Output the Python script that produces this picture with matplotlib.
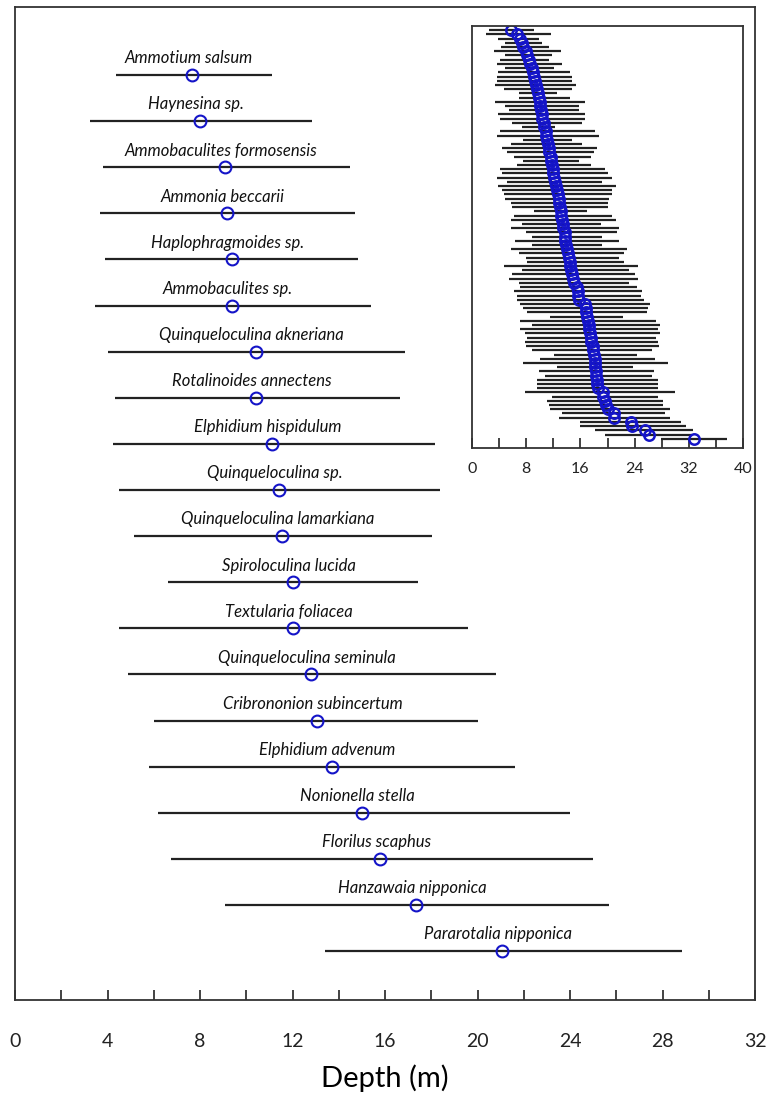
import numpy as np
import matplotlib.pyplot as plt
from matplotlib.ticker import MultipleLocator

plt.rcParams['font.family'] = ['Lato', 'DejaVu Sans']

# species depth ranges (main panel)
species = ['Ammotium salsum', 'Haynesina sp.', 'Ammobaculites formosensis',
           'Ammonia beccarii', 'Haplophragmoides sp.', 'Ammobaculites sp.',
           'Quinqueloculina akneriana', 'Rotalinoides annectens',
           'Elphidium hispidulum', 'Quinqueloculina sp.',
           'Quinqueloculina lamarkiana', 'Spiroloculina lucida',
           'Textularia foliacea', 'Quinqueloculina seminula',
           'Cribrononion subincertum', 'Elphidium advenum', 'Nonionella stella',
           'Florilus scaphus', 'Hanzawaia nipponica', 'Pararotalia nipponica']
sp_mid = [7.67, 8.0, 9.08, 9.15, 9.37, 9.37, 10.42, 10.42, 11.13, 11.42,
          11.55, 12.04, 12.04, 12.8, 13.05, 13.7, 15.0, 15.8, 17.35, 21.05]
sp_lo = [4.37, 3.24, 3.82, 3.68, 3.89, 3.46, 4.04, 4.32, 4.25, 4.51,
         5.16, 6.63, 4.51, 4.9, 6.0, 5.8, 6.2, 6.75, 9.1, 13.4]
sp_hi = [11.1, 12.85, 14.49, 14.7, 14.85, 15.38, 16.86, 16.65, 18.16, 18.38,
         18.02, 17.44, 19.58, 20.8, 20.0, 21.6, 24.0, 25.0, 25.7, 28.85]

# inset: all taxa, optimum and range
ins_mid = [5.7, 6.6, 7.1, 7.4, 7.6, 7.9, 8.1, 8.4, 8.6, 8.8,
           9.0, 9.1, 9.3, 9.5, 9.6, 9.8, 9.9, 10.0, 10.1, 10.2,
           10.3, 10.4, 10.6, 10.7, 10.9, 10.9, 11.1, 11.2, 11.3, 11.4,
           11.6, 11.7, 11.8, 11.9, 12.0, 12.1, 12.3, 12.4, 12.6, 12.7,
           12.8, 12.9, 13.0, 13.1, 13.2, 13.3, 13.4, 13.5, 13.7, 13.8,
           13.8, 13.9, 14.0, 14.2, 14.3, 14.4, 14.5, 14.6, 14.8, 14.9,
           15.0, 15.5, 15.6, 15.7, 15.8, 16.7, 16.8, 16.9, 17.0, 17.1,
           17.2, 17.3, 17.4, 17.5, 17.6, 17.8, 17.9, 18.0, 18.1, 18.1,
           18.2, 18.3, 18.3, 18.4, 18.5, 18.6, 19.3, 19.4, 19.6, 19.8,
           20.1, 20.9, 21.0, 23.4, 23.6, 25.6, 26.1, 32.7]
ins_lo = [2.5, 2.0, 3.9, 4.9, 4.3, 3.2, 4.9, 4.2, 3.7, 4.9,
          3.9, 3.7, 3.7, 3.4, 4.7, 6.9, 6.9, 3.4, 4.9, 5.4,
          3.9, 4.2, 5.9, 7.4, 4.2, 3.7, 7.6, 5.7, 4.4, 5.2,
          6.2, 7.6, 6.7, 4.2, 4.4, 3.7, 5.2, 3.9, 4.4, 4.7,
          4.9, 5.7, 5.9, 9.1, 6.2, 5.7, 7.4, 5.7, 7.9, 8.9,
          6.4, 8.9, 5.7, 6.9, 7.9, 8.1, 4.7, 7.4, 5.9, 5.4,
          6.9, 7.1, 6.2, 6.7, 6.7, 7.1, 7.6, 8.1, 11.5, 7.1,
          8.8, 7.1, 7.8, 8.1, 7.8, 8.0, 8.8, 12.1, 10.0, 7.6,
          12.6, 9.9, 10.8, 9.6, 9.6, 9.6, 7.8, 11.8, 11.1, 11.3,
          11.5, 13.3, 12.8, 16.0, 15.9, 18.1, 19.7, 27.9]
ins_hi = [9.1, 11.6, 9.9, 10.3, 11.3, 13.1, 11.8, 11.3, 13.3, 12.1,
          14.5, 14.8, 14.8, 15.3, 14.8, 12.6, 14.5, 16.7, 15.8, 15.8,
          16.7, 16.7, 16.3, 12.3, 18.2, 18.7, 14.8, 16.3, 18.5, 18.0,
          17.5, 15.8, 17.5, 19.7, 20.0, 20.7, 19.2, 21.2, 20.7, 20.7,
          20.2, 20.0, 20.0, 17.0, 20.7, 21.2, 19.0, 21.7, 21.4, 19.2,
          21.7, 19.2, 22.9, 22.4, 21.7, 22.4, 24.5, 23.2, 24.1, 24.5,
          23.2, 24.4, 25.1, 24.9, 25.4, 26.2, 26.0, 25.8, 22.3, 27.2,
          27.7, 27.4, 27.7, 27.2, 27.4, 27.6, 26.5, 24.3, 27.0, 29.0,
          23.8, 26.8, 26.6, 27.5, 27.5, 27.5, 30.0, 27.4, 28.2, 28.2,
          29.2, 28.5, 29.2, 30.8, 31.6, 32.6, 32.5, 37.6]

blue = '#1414c8'
dark = '#222222'

fig = plt.figure(figsize=(7.7, 11), dpi=100)

# main panel
ax = fig.add_axes([15/770, 100/1100, 740/770, 993/1100])
ypos = np.arange(1, len(species) + 1)
ax.hlines(ypos, sp_lo, sp_hi, color=dark, lw=1.6)
ax.plot(sp_mid, ypos, 'o', ms=8.5, mfc='none', mec=blue, mew=1.5)
for name, x, y in zip(species, sp_mid, ypos):
    ax.annotate(name, (x, y), textcoords='offset points', xytext=(-3, 12),
                ha='center', va='center', fontsize=12, style='italic',
                color='#111111')
ax.set_xlim(0, 32)
ax.set_ylim(len(species) + 1.06, -0.475)
ax.xaxis.set_major_locator(MultipleLocator(4))
ax.xaxis.set_minor_locator(MultipleLocator(2))
ax.tick_params(axis='x', which='both', direction='in', length=7, width=1.2,
               pad=24, labelsize=14, colors='#222222')
ax.set_yticks([])
for s in ax.spines.values():
    s.set_linewidth(1.3)
    s.set_color('#333333')
ax.set_xlabel('Depth (m)', fontsize=21, labelpad=10)

# inset panel
ins = fig.add_axes([472/770, 652/1100, 271/770, 422/1100])
iy = np.arange(1, len(ins_mid) + 1)
ins.hlines(iy, ins_lo, ins_hi, color=dark, lw=1.6)
ins.plot(ins_mid, iy, 'o', ms=7.5, mfc='none', mec=blue, mew=1.8)
ins.set_xlim(0, 40)
ins.set_ylim(len(ins_mid) + 2.2, 0)
ins.set_xticks(np.arange(0, 41, 4))
ins.set_xticklabels([str(v) if v % 8 == 0 else '' for v in range(0, 41, 4)])
ins.tick_params(axis='x', direction='in', length=7, width=1.2, pad=10,
                labelsize=11.5, colors='#222222')
ins.set_yticks([])
for s in ins.spines.values():
    s.set_linewidth(1.3)
    s.set_color('#333333')

fig.savefig('out.png', dpi=100)
